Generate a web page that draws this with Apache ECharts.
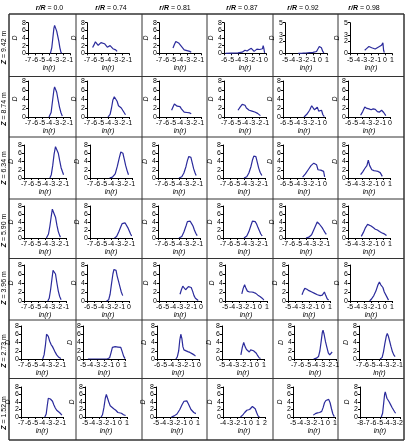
<!DOCTYPE html>
<html><head><meta charset="utf-8">
<script src="https://cdn.jsdelivr.net/npm/echarts@6/dist/echarts.min.js"></script>
<style>html,body{margin:0;padding:0;background:#fff}#c{width:406px;height:443px}</style>
</head><body><div id="c"></div>
<script>
const rowLabels = ['9.42','8.74','6.34','5.90','3.96','2.73','1.52'];
const colLabels = ['0.0','0.74','0.81','0.87','0.92','0.98'];
// x-axis minimum of each panel (each axis spans 6 units)
const xMins = [
  [-7,-7,-7,-6,-5,-5],
  [-7,-7,-7,-7,-6,-6],
  [-7,-7,-7,-7,-6,-5],
  [-7,-7,-7,-7,-7,-5],
  [-7,-6,-6,-5,-5,-5],
  [-7,-5,-6,-5,-7,-7],
  [-7,-5,-5,-4,-5,-8]
];
const yMaxs = [
  [8,8,8,8,5,5],
  [8,8,8,8,8,8],
  [8,8,8,8,8,8],
  [8,8,8,8,8,8],
  [8,8,8,8,8,8],
  [8,8,8,8,8,8],
  [8,8,8,8,8,8]
];
// Row Z=9.42
const d1_1 = [[-3.8,0],[-3.6,1.5],[-3.45,4],[-3.3,6.5],[-3.2,7.3],[-3.1,7.0],[-3.0,6.8],[-2.9,5.8],[-2.75,4.5],[-2.6,3.2],[-2.45,1.5],[-2.3,0.3],[-2.2,0]];
const d1_2 = [[-6.2,1.5],[-6.0,2.2],[-5.8,3.0],[-5.6,2.7],[-5.4,2.1],[-5.2,2.2],[-5.0,2.8],[-4.8,2.7],[-4.5,2.5],[-4.3,2.3],[-4.1,1.6],[-3.9,1.5],[-3.7,2.0],[-3.5,1.9],[-3.3,1.2],[-3.1,1.0],[-2.9,0.9],[-2.7,0.5]];
const d1_3 = [[-5.0,1.4],[-4.8,2.3],[-4.6,3.1],[-4.4,3.0],[-4.2,2.7],[-4.0,2.3],[-3.8,1.8],[-3.6,1.3],[-3.4,0.9],[-3.2,0.6],[-3.0,0.7],[-2.8,0.4],[-2.6,0.5],[-2.4,0.3]];
const d1_4 = [[-5.8,0],[-5,0.05],[-4,0.1],[-3.4,0.3],[-3.0,0.8],[-2.7,0.6],[-2.4,1.0],[-2.1,1.3],[-1.9,1.0],[-1.7,0.5],[-1.5,0.9],[-1.3,1.1],[-1.1,0.6],[-0.9,1.0],[-0.7,0.7],[-0.5,1.2],[-0.4,2.0],[-0.3,1.2],[-0.2,0.1]];
const d1_5 = [[-3.1,0],[-2.5,0.02],[-2.0,0.05],[-1.5,0.1],[-1.0,0.15],[-0.5,0.3],[-0.25,0.5],[-0.1,1.1],[0.0,0.8],[0.1,1.0],[0.2,0.9],[0.3,0.7],[0.4,0.3],[0.55,0.05]];
const d1_6 = [[-2.9,0.5],[-2.6,0.8],[-2.3,1.1],[-2.1,1.3],[-1.9,0.9],[-1.7,0.6],[-1.4,0.7],[-1.1,0.9],[-0.8,1.1],[-0.5,1.3],[-0.3,1.7],[-0.2,0.5],[-0.1,0.1]];
// Row Z=8.74
const d2_1 = [[-4.0,0],[-3.7,1.0],[-3.5,3.5],[-3.3,6.0],[-3.2,6.7],[-3.1,6.5],[-2.9,5.5],[-2.7,3.8],[-2.5,2.2],[-2.3,1.0],[-2.1,0.2]];
const d2_2 = [[-4.0,0],[-3.7,0.6],[-3.5,2.0],[-3.3,3.8],[-3.1,4.5],[-2.9,4.3],[-2.7,3.5],[-2.5,2.5],[-2.3,2.2],[-2.1,2.0],[-1.9,1.6],[-1.7,1.0],[-1.5,0.5]];
const d2_3 = [[-5.2,1.5],[-5.0,2.2],[-4.8,2.9],[-4.6,2.6],[-4.4,2.4],[-4.2,2.8],[-4.0,2.3],[-3.8,1.8],[-3.6,1.4],[-3.4,1.1],[-3.2,1.5],[-3.0,1.0],[-2.8,1.3],[-2.6,0.9],[-2.4,0.7]];
const d2_4 = [[-5.0,1.5],[-4.7,2.2],[-4.4,2.8],[-4.2,3.0],[-4.0,2.6],[-3.8,2.0],[-3.6,1.8],[-3.4,1.5],[-3.2,1.7],[-3.0,1.3],[-2.8,1.5],[-2.6,1.1],[-2.4,1.2],[-2.2,0.8],[-2.0,0.6],[-1.8,0.3]];
const d2_5 = [[-3.0,0],[-2.6,0.6],[-2.2,1.5],[-1.9,2.5],[-1.7,2.1],[-1.5,1.6],[-1.3,2.0],[-1.1,2.2],[-0.9,1.3],[-0.7,1.7],[-0.5,1.5],[-0.3,0.5],[-0.1,0.1]];
const d2_6 = [[-4.2,0.4],[-3.9,1.2],[-3.6,2.2],[-3.3,1.9],[-3.0,1.8],[-2.7,1.6],[-2.4,1.8],[-2.1,1.7],[-1.8,1.2],[-1.5,1.1],[-1.2,1.5],[-0.9,1.0],[-0.6,0.3]];
// Row Z=6.34
const d3_1 = [[-3.3,0],[-3.1,0.8],[-2.9,3.0],[-2.7,5.8],[-2.5,7.6],[-2.4,7.8],[-2.3,7.3],[-2.1,6.0],[-1.9,4.2],[-1.7,2.5],[-1.5,1.5],[-1.35,0.8]];
const d3_2 = [[-4.2,0],[-3.8,0.2],[-3.4,1.0],[-3.1,2.8],[-2.8,5.0],[-2.6,6.3],[-2.45,6.6],[-2.3,6.0],[-2.1,4.5],[-1.9,3.0],[-1.7,1.8],[-1.5,0.8]];
const d3_3 = [[-4.0,0],[-3.6,0.3],[-3.3,1.2],[-3.0,2.8],[-2.8,4.2],[-2.6,5.2],[-2.45,5.6],[-2.3,5.0],[-2.1,3.6],[-1.9,2.2],[-1.7,1.2],[-1.55,0.6]];
const d3_4 = [[-4.0,0],[-3.6,0.3],[-3.3,1.2],[-3.0,2.8],[-2.8,4.3],[-2.6,5.3],[-2.45,5.7],[-2.3,5.2],[-2.1,3.8],[-1.9,2.4],[-1.7,1.4],[-1.45,0.6]];
const d3_5 = [[-3.2,0.2],[-2.8,1.0],[-2.4,2.0],[-2.0,3.0],[-1.6,3.6],[-1.4,4.0],[-1.2,3.2],[-1.0,2.0],[-0.8,1.7],[-0.6,1.9],[-0.4,1.8],[-0.2,1.6],[-0.05,0.3]];
const d3_6 = [[-3.2,0.8],[-2.9,1.5],[-2.6,2.3],[-2.3,3.0],[-2.1,4.3],[-1.9,3.0],[-1.6,2.0],[-1.3,1.8],[-1.0,1.7],[-0.7,1.6],[-0.4,1.3],[-0.1,0.4]];
// Row Z=5.90
const d4_1 = [[-3.8,0],[-3.5,1.0],[-3.3,3.0],[-3.1,5.5],[-2.95,7.2],[-2.85,7.6],[-2.7,7.0],[-2.5,5.2],[-2.3,3.2],[-2.1,1.6],[-1.9,0.6],[-1.8,0.2]];
const d4_2 = [[-3.5,0],[-3.2,0.4],[-2.9,1.5],[-2.6,2.8],[-2.4,3.6],[-2.2,4.0],[-2.0,3.8],[-1.8,3.4],[-1.6,2.6],[-1.4,1.8],[-1.2,1.0],[-1.05,0.5]];
const d4_3 = [[-4.0,0],[-3.6,0.4],[-3.3,1.5],[-3.0,3.0],[-2.8,4.1],[-2.6,4.5],[-2.4,4.2],[-2.2,3.6],[-2.0,3.0],[-1.8,2.0],[-1.6,1.2],[-1.4,0.6]];
const d4_4 = [[-4.0,0],[-3.6,0.5],[-3.3,1.6],[-3.0,3.2],[-2.8,4.2],[-2.6,4.6],[-2.4,4.1],[-2.2,3.5],[-2.0,2.6],[-1.8,1.8],[-1.6,1.0],[-1.4,0.5]];
const d4_5 = [[-4.0,0],[-3.6,0.2],[-3.2,0.8],[-2.9,2.0],[-2.6,3.2],[-2.4,4.0],[-2.25,4.3],[-2.1,3.5],[-1.9,3.0],[-1.7,2.6],[-1.5,2.0],[-1.3,1.4],[-1.1,0.9]];
const d4_6 = [[-3.1,0.4],[-2.8,1.4],[-2.5,2.6],[-2.2,3.4],[-2.0,3.3],[-1.7,3.0],[-1.4,2.6],[-1.1,2.2],[-0.8,2.0],[-0.5,1.6],[-0.2,1.3],[0.1,1.1],[0.3,1.0],[0.5,0.6]];
// Row Z=3.96
const d5_1 = [[-3.6,0],[-3.4,0.6],[-3.2,2.5],[-3.0,5.0],[-2.85,6.8],[-2.75,7.2],[-2.65,7.0],[-2.5,6.0],[-2.3,4.0],[-2.1,2.2],[-1.9,1.0],[-1.7,0.3]];
const d5_2 = [[-3.2,0],[-2.9,0.3],[-2.7,1.5],[-2.5,3.8],[-2.3,6.0],[-2.15,7.0],[-2.0,6.6],[-1.85,6.8],[-1.7,5.6],[-1.5,4.4],[-1.3,3.2],[-1.1,2.0],[-0.9,1.2]];
const d5_3 = [[-3.0,1.5],[-2.8,2.5],[-2.6,3.3],[-2.4,3.0],[-2.2,2.5],[-2.0,2.6],[-1.8,3.2],[-1.6,3.4],[-1.4,3.0],[-1.2,2.2],[-1.0,1.2],[-0.8,0.6],[-0.6,0.4],[-0.4,0.1]];
const d5_4 = [[-2.6,1.6],[-2.4,2.8],[-2.2,3.6],[-2.0,2.8],[-1.8,2.2],[-1.5,2.0],[-1.2,2.0],[-0.9,1.9],[-0.6,1.7],[-0.3,1.3],[0.0,1.0],[0.2,1.1],[0.4,0.5],[0.55,0.2]];
const d5_5 = [[-3.0,1.4],[-2.8,2.2],[-2.6,2.8],[-2.3,2.6],[-2.0,2.3],[-1.6,2.0],[-1.2,1.7],[-0.8,1.4],[-0.4,1.2],[-0.1,1.3],[0.2,2.0],[0.4,1.2],[0.6,0.5],[0.8,0.2]];
const d5_6 = [[-2.2,0],[-1.9,0.5],[-1.6,1.2],[-1.3,2.2],[-1.0,3.6],[-0.8,4.2],[-0.6,3.6],[-0.45,3.8],[-0.3,3.0],[-0.1,2.0],[0.1,1.8],[0.3,0.8],[0.5,0.2]];
// Row Z=2.73
const d6_1 = [[-3.9,0],[-3.7,1.0],[-3.5,3.5],[-3.35,6.0],[-3.25,6.3],[-3.1,5.5],[-2.9,4.3],[-2.7,3.5],[-2.5,3.0],[-2.3,2.3],[-2.1,1.6],[-1.9,1.0],[-1.6,0.4],[-1.3,0.1]];
const d6_2 = [[-4.3,0],[-3.0,0],[-2.0,0],[-1.5,0.05],[-1.2,0.3],[-1.0,1.5],[-0.8,2.8],[-0.6,3.2],[-0.4,3.0],[-0.2,2.8],[0.0,2.9],[0.2,3.2],[0.4,2.8],[0.6,1.8],[0.8,0.7],[1.0,0.1]];
const d6_3 = [[-3.3,0],[-3.1,0.5],[-2.9,2.0],[-2.75,4.5],[-2.6,6.0],[-2.45,5.0],[-2.3,3.0],[-2.15,2.2],[-1.9,2.0],[-1.6,1.8],[-1.3,1.6],[-1.0,1.3],[-0.7,1.0],[-0.5,0.7]];
const d6_4 = [[-2.3,1.0],[-2.1,2.8],[-1.9,4.0],[-1.7,3.0],[-1.5,2.3],[-1.3,2.0],[-1.1,1.7],[-0.9,2.2],[-0.7,2.4],[-0.5,2.0],[-0.3,1.8],[-0.1,1.4],[0.1,0.8],[0.3,0.3],[0.5,0.1]];
const d6_5 = [[-4.2,0],[-3.8,0.2],[-3.5,0.6],[-3.3,2.0],[-3.1,4.5],[-2.95,6.5],[-2.85,7.0],[-2.7,6.0],[-2.5,4.2],[-2.3,2.8],[-2.1,1.5],[-1.9,1.0],[-1.7,1.2],[-1.55,1.7]];
const d6_6 = [[-3.9,0],[-3.6,0.4],[-3.4,1.8],[-3.2,3.8],[-3.0,5.5],[-2.85,6.2],[-2.7,5.6],[-2.5,4.3],[-2.3,3.0],[-2.1,1.8],[-1.9,1.0],[-1.7,0.6]];
// Row Z=1.52
const d7_1 = [[-3.6,0],[-3.4,0.8],[-3.25,3.0],[-3.1,5.0],[-2.95,5.1],[-2.8,4.8],[-2.65,4.9],[-2.5,4.2],[-2.3,3.2],[-2.1,2.4],[-1.9,1.8],[-1.7,1.5],[-1.5,1.2],[-1.3,0.8],[-1.15,0.5]];
const d7_2 = [[-2.7,0],[-2.5,0.6],[-2.3,2.5],[-2.1,5.0],[-1.95,6.0],[-1.8,5.5],[-1.6,4.0],[-1.4,3.0],[-1.2,2.6],[-0.9,2.2],[-0.6,1.8],[-0.3,1.2],[-0.1,1.4],[0.2,1.0],[0.5,0.6],[0.8,0.4]];
const d7_3 = [[-2.8,0],[-2.4,0.3],[-2.0,0.8],[-1.6,2.0],[-1.3,3.2],[-1.0,4.2],[-0.8,4.6],[-0.6,4.3],[-0.4,3.6],[-0.2,2.8],[0.0,2.0],[0.2,1.5],[0.4,1.2],[0.7,0.9]];
const d7_4 = [[-1.5,0],[-1.2,0.5],[-0.9,1.2],[-0.6,1.8],[-0.4,2.3],[-0.2,2.0],[0.0,2.5],[0.2,2.8],[0.4,3.3],[0.6,2.2],[0.8,1.2],[1.0,0.3],[1.2,0]];
const d7_5 = [[-2.1,0.5],[-1.8,0.9],[-1.5,1.1],[-1.2,1.2],[-0.9,1.5],[-0.7,2.5],[-0.5,3.8],[-0.3,4.4],[-0.1,4.5],[0.1,4.7],[0.3,3.8],[0.5,2.2],[0.7,0.8],[0.9,0.1]];
const d7_6 = [[-4.8,0],[-4.6,1.0],[-4.45,3.5],[-4.3,6.0],[-4.2,6.7],[-4.1,6.2],[-3.95,5.0],[-3.8,4.6],[-3.6,4.0],[-3.4,3.3],[-3.2,2.6],[-3.0,2.0],[-2.8,1.4],[-2.65,1.0]];

const panels = [
  [d1_1,d1_2,d1_3,d1_4,d1_5,d1_6],
  [d2_1,d2_2,d2_3,d2_4,d2_5,d2_6],
  [d3_1,d3_2,d3_3,d3_4,d3_5,d3_6],
  [d4_1,d4_2,d4_3,d4_4,d4_5,d4_6],
  [d5_1,d5_2,d5_3,d5_4,d5_5,d5_6],
  [d6_1,d6_2,d6_3,d6_4,d6_5,d6_6],
  [d7_1,d7_2,d7_3,d7_4,d7_5,d7_6]
];

// ---- layout (pixels) ----
const FONT = '"Liberation Sans", Arial, sans-serif';
const colEdges = [9, 76, 142, 207, 273, 338, 404];
const rowEdges = [14, 76.5, 137, 199, 258.5, 320, 378.5, 440];
const panelLeft = [
  [28, 87, 159, 224, 285, 350],
  [28, 87, 159, 224, 283, 348],
  [24, 90, 158, 223, 283, 348],
  [24, 90, 158, 223, 285, 348],
  [24, 87, 159, 225, 288, 350],
  [21, 83, 157, 222, 294, 359],
  [21, 85, 156, 223, 293, 360]
];
const panelTop = [22.7, 81, 145, 206, 265, 326, 387];
const panelBottom = [53.3, 117, 178, 238, 301, 359, 417];
const headerX = [49.5, 111, 175, 242, 303, 364];
const rowLabelY = [47.5, 109, 168, 230.5, 288, 351, 413];
const lineColor = '#2b2b9c';

const grids = [], xAxes = [], yAxes = [], series = [], graphics = [];
for (let r = 0; r < 7; r++) {
  for (let c = 0; c < 6; c++) {
    const k = r * 6 + c;
    grids.push({left: panelLeft[r][c], top: panelTop[r], width: 42,
      height: panelBottom[r] - panelTop[r]});
    const xm = xMins[r][c], ym = yMaxs[r][c];
    xAxes.push({
      gridIndex: k, type: 'value', min: xm, max: xm + 6, interval: 1,
      axisLine: {onZero: false, lineStyle: {color: '#000', width: 1}},
      axisTick: {length: 2, lineStyle: {color: '#000'}},
      splitLine: {show: false},
      axisLabel: {fontSize: 7, color: '#000', margin: 3, fontFamily: FONT,
        hideOverlap: false, showMinLabel: true, showMaxLabel: true},
      name: 'ln(r)', nameLocation: 'middle', nameGap: 11,
      nameTextStyle: {fontSize: 7, fontStyle: 'italic', color: '#000', fontFamily: FONT}
    });
    yAxes.push({
      gridIndex: k, type: 'value', min: 0, max: ym, interval: ym === 5 ? 1 : 2,
      axisLine: {show: true, onZero: false, lineStyle: {color: '#000', width: 1}},
      axisTick: {show: true, length: 2, lineStyle: {color: '#000'}},
      splitLine: {show: false},
      axisLabel: {fontSize: 7, color: '#000', margin: 2, fontFamily: FONT,
        hideOverlap: false, showMinLabel: true, showMaxLabel: true},
      name: 'D', nameLocation: 'middle', nameGap: 9, nameRotate: 90,
      nameTextStyle: {fontSize: 7, fontStyle: 'italic', color: '#000', fontFamily: FONT}
    });
    series.push({
      type: 'line', xAxisIndex: k, yAxisIndex: k, data: panels[r][c],
      showSymbol: false, symbol: 'none', animation: false,
      lineStyle: {color: lineColor, width: 1.2}
    });
  }
}
// table lines
colEdges.forEach((x, i) => {
  graphics.push({type: 'line', shape: {x1: x, y1: rowEdges[0], x2: x, y2: rowEdges[7]},
    style: {stroke: '#333', lineWidth: (i === 0 || i === 6) ? 1.5 : 1}});
});
rowEdges.forEach((y, i) => {
  graphics.push({type: 'line', shape: {x1: colEdges[0], y1: y, x2: colEdges[6], y2: y},
    style: {stroke: '#333', lineWidth: (i === 0 || i === 7) ? 1.5 : 1}});
});
colLabels.forEach((t, c) => {
  graphics.push({type: 'text', x: headerX[c], y: 8,
    style: {text: '{a|r/R} = ' + t, fontSize: 7, fontFamily: FONT, fill: '#000',
      align: 'center', verticalAlign: 'middle',
      rich: {a: {fontStyle: 'italic', fontWeight: 'bold', fontSize: 7, fontFamily: FONT}}}});
});
rowLabels.forEach((t, r) => {
  graphics.push({type: 'text', x: 4, y: rowLabelY[r], rotation: Math.PI / 2,
    style: {text: '{a|Z} = ' + t + ' m', fontSize: 7, fontFamily: FONT, fill: '#000',
      align: 'center', verticalAlign: 'middle',
      rich: {a: {fontStyle: 'italic', fontWeight: 'bold', fontSize: 7, fontFamily: FONT}}}});
});

const chart = echarts.init(document.getElementById('c'), null, {renderer: 'canvas'});
chart.setOption({
  animation: false,
  backgroundColor: '#fff',
  grid: grids, xAxis: xAxes, yAxis: yAxes, series: series,
  graphic: graphics
});
</script>
</body></html>
